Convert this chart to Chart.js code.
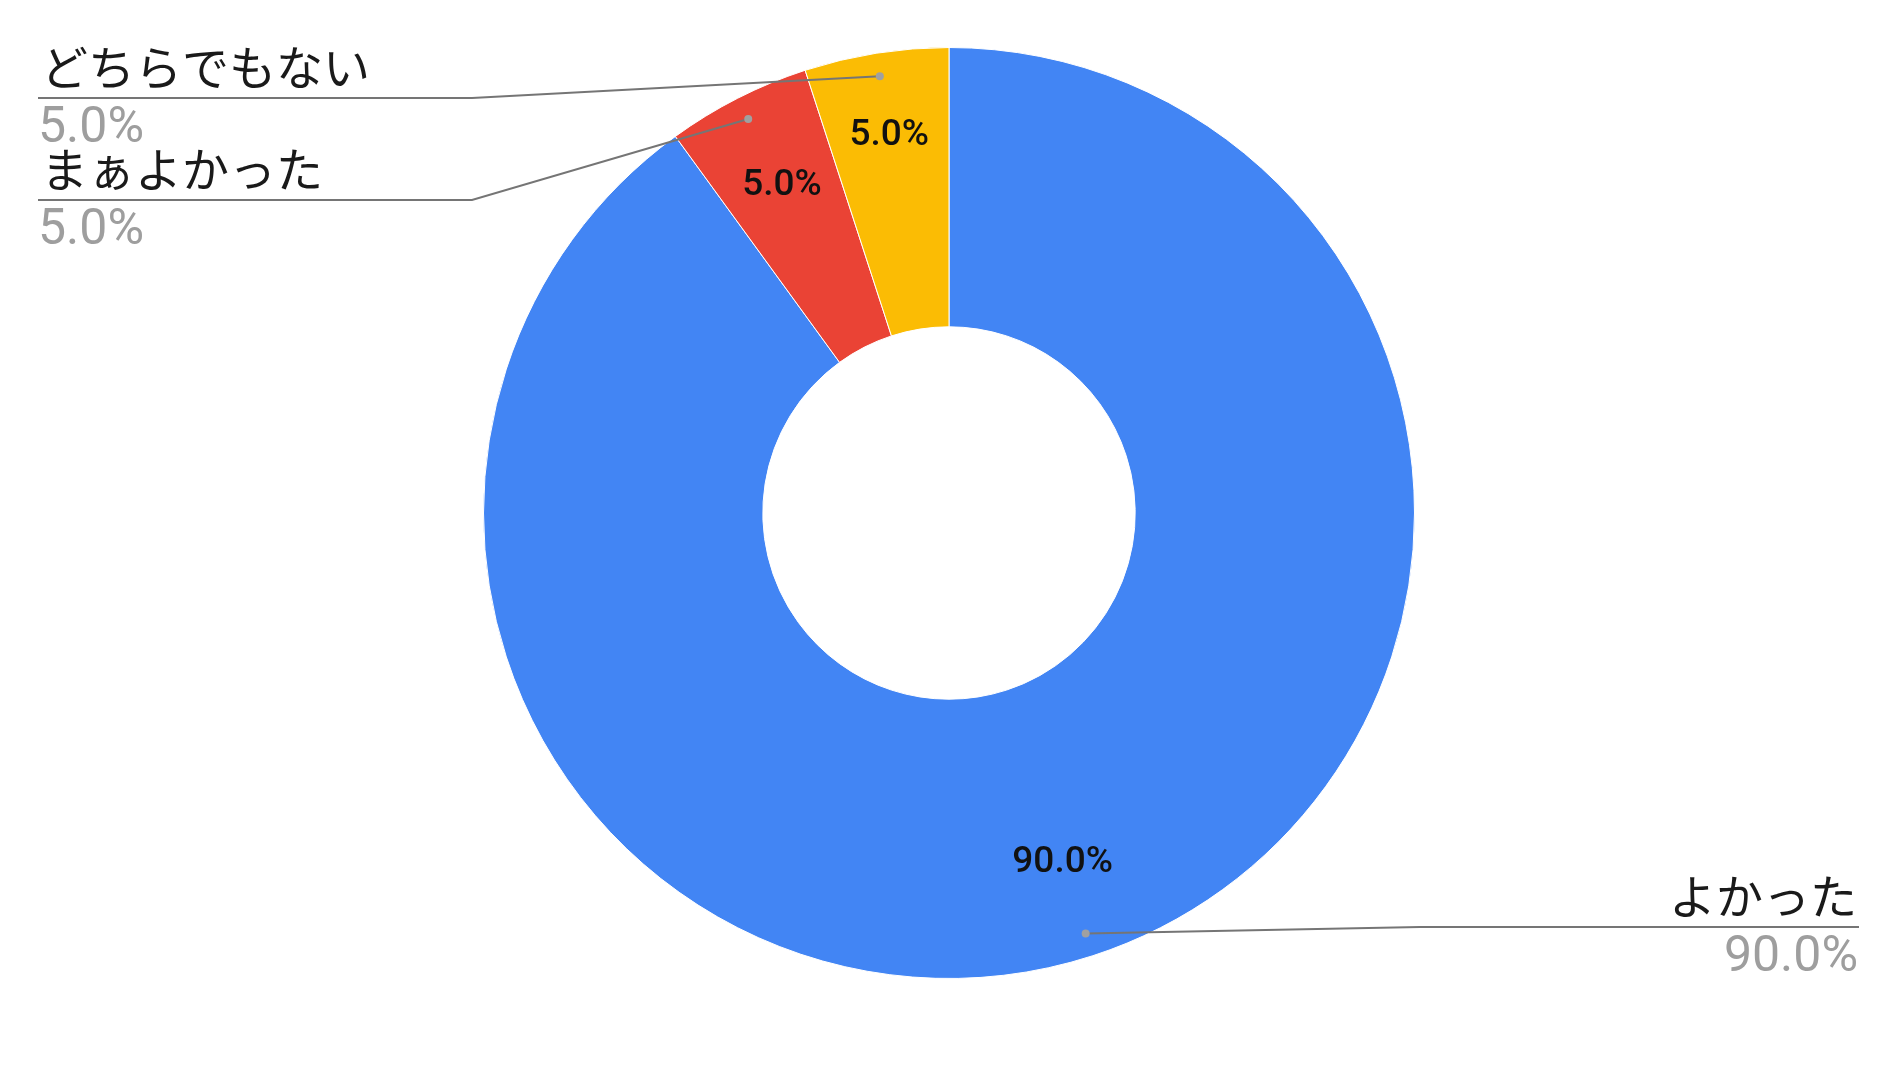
<!DOCTYPE html>
<html>
<head>
<meta charset="utf-8">
<script src="https://cdn.jsdelivr.net/npm/chart.js@4/dist/chart.umd.min.js"></script>
<style>
  html, body { margin: 0; padding: 0; background: #fff; }
  #wrap { width: 1896px; height: 1066px; }
</style>
</head>
<body>
<div id="wrap"><canvas id="chart"></canvas></div>
<script>
// data
const categories = ['よかった', 'まぁよかった', 'どちらでもない'];
const values = [90, 5, 5];
const sliceColors = ['#4285F4', '#EA4335', '#FBBC04'];

// where each outside label sits (line y, elbow x, side) and how far out the inner % goes
const labelLayout = [
  { side: 'right', lineY: 927, elbowX: 1420, inner: 0.79 },
  { side: 'left',  lineY: 200, elbowX: 472,  inner: 0.79 },
  { side: 'left',  lineY: 98,  elbowX: 472,  inner: 0.82 }
];

const total = values.reduce((a, b) => a + b, 0);
const pct = v => (v / total * 100).toFixed(1) + '%';

const labelPlugin = {
  id: 'sheetLabels',
  afterDatasetsDraw(chart) {
    const ctx = chart.ctx;
    const meta = chart.getDatasetMeta(0);
    meta.data.forEach((arc, i) => {
      const p = arc.getProps(['x', 'y', 'startAngle', 'endAngle', 'outerRadius'], true);
      const mid = (p.startAngle + p.endAngle) / 2;
      const lay = labelLayout[i];
      const txt = pct(values[i]);

      // percentage inside the slice
      ctx.save();
      ctx.font = '500 37px Roboto';
      ctx.fillStyle = '#111';
      ctx.textAlign = 'center';
      ctx.textBaseline = 'middle';
      const ri = p.outerRadius * lay.inner;
      ctx.fillText(txt, p.x + Math.cos(mid) * ri, p.y + Math.sin(mid) * ri);
      ctx.restore();

      // leader line
      const rd = p.outerRadius * 0.95;
      const dx = p.x + Math.cos(mid) * rd;
      const dy = p.y + Math.sin(mid) * rd;
      const endX = lay.side === 'left' ? 38 : 1859;
      ctx.save();
      ctx.strokeStyle = '#757575';
      ctx.lineWidth = 2;
      ctx.beginPath();
      ctx.moveTo(dx, dy);
      ctx.lineTo(lay.elbowX, lay.lineY);
      ctx.lineTo(endX, lay.lineY);
      ctx.stroke();
      ctx.fillStyle = '#a0a0a0';
      ctx.beginPath();
      ctx.arc(dx, dy, 4, 0, Math.PI * 2);
      ctx.fill();

      // name above the line, value below
      ctx.textAlign = lay.side === 'left' ? 'left' : 'right';
      ctx.textBaseline = 'alphabetic';
      const tx = lay.side === 'left' ? 41 : 1857;
      ctx.font = '47px "Noto Sans CJK JP"';
      ctx.fillStyle = '#1a1a1a';
      ctx.fillText(categories[i], tx, lay.lineY - 13);
      ctx.font = '50px Roboto';
      ctx.fillStyle = '#9e9e9e';
      ctx.fillText(txt, lay.side === 'left' ? 38 : 1858, lay.lineY + 44);
      ctx.restore();
    });
  }
};

new Chart(document.getElementById('chart'), {
  type: 'doughnut',
  data: {
    labels: categories,
    datasets: [{
      data: values,
      backgroundColor: sliceColors,
      borderColor: '#ffffff',
      borderWidth: 1
    }]
  },
  options: {
    responsive: true,
    maintainAspectRatio: false,
    animation: false,
    cutout: '40%',
    layout: { padding: { top: 47, bottom: 87, left: 483, right: 481 } },
    plugins: {
      legend: { display: false },
      tooltip: { enabled: false }
    }
  },
  plugins: [labelPlugin]
});
</script>
</body>
</html>
